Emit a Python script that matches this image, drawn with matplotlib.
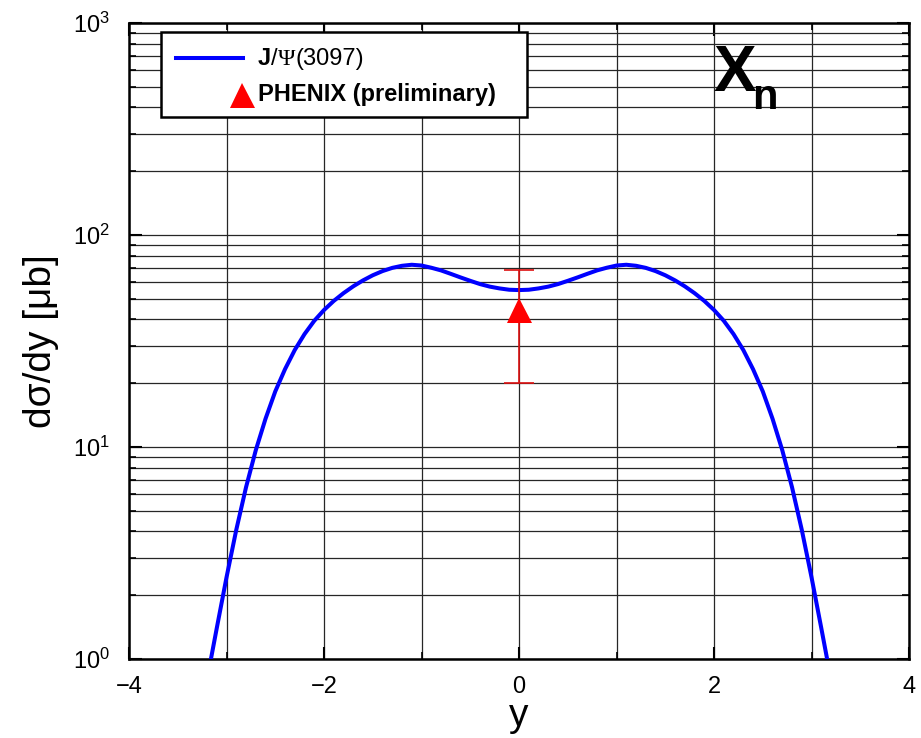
import matplotlib
matplotlib.use("Agg")
import matplotlib.pyplot as plt
from matplotlib import font_manager
from matplotlib.patches import Rectangle
from matplotlib.ticker import LogLocator, MultipleLocator, NullFormatter

# J/psi rapidity distribution
rapidity = [-3.16, -3.1, -3.0, -2.9, -2.8, -2.7, -2.6, -2.5, -2.4, -2.3,
            -2.2, -2.1, -2.0, -1.9, -1.8, -1.7, -1.6, -1.5, -1.4, -1.3,
            -1.2, -1.1, -1.0, -0.9, -0.8, -0.7, -0.6, -0.5, -0.4, -0.3,
            -0.2, -0.1, 0.0, 0.1, 0.2, 0.3, 0.4, 0.5, 0.6, 0.7,
            0.8, 0.9, 1.0, 1.1, 1.2, 1.3, 1.4, 1.5, 1.6, 1.7,
            1.8, 1.9, 2.0, 2.1, 2.2, 2.3, 2.4, 2.5, 2.6, 2.7,
            2.8, 2.9, 3.0, 3.1, 3.16]
dsigma_dy = [1.00, 1.40, 2.43, 4.07, 6.46, 9.66, 13.6, 18.3, 23.3, 28.7,
             34.1, 39.4, 44.3, 48.9, 53.2, 57.3, 61.1, 64.6, 67.6, 70.0,
             71.6, 72.4, 71.8, 70.1, 68.1, 65.6, 63.1, 60.8, 58.7, 57.1,
             56.0, 55.2, 55.0, 55.2, 56.0, 57.1, 58.7, 60.8, 63.1, 65.6,
             68.1, 70.1, 71.8, 72.4, 71.6, 70.0, 67.6, 64.6, 61.1, 57.3,
             53.2, 48.9, 44.3, 39.4, 34.1, 28.7, 23.3, 18.3, 13.6, 9.66,
             6.46, 4.07, 2.43, 1.40, 1.00]

# PHENIX preliminary point
phenix_y = [0.0]
phenix_val = [44.4]
phenix_lo = [20.1]
phenix_hi = [68.3]

data_label = "PHENIX (preliminary)"


def pick_font(names):
    for name in names:
        try:
            font_manager.findfont(name, fallback_to_default=False)
            return name
        except ValueError:
            continue
    return "DejaVu Sans"


sans = pick_font(["Liberation Sans", "Arial"])
serif = pick_font(["Liberation Serif"])

plt.rcParams["font.family"] = sans

fig = plt.figure(figsize=(9.21, 7.38), dpi=100)
ax = fig.add_axes([0.1401, 0.1070, 0.8469, 0.8618])

ax.plot(rapidity, dsigma_dy, color="#0000ff", linewidth=2.9, zorder=4,
        solid_joinstyle="round")

yerr = [[v - lo for v, lo in zip(phenix_val, phenix_lo)],
        [hi - v for v, hi in zip(phenix_val, phenix_hi)]]
ax.errorbar(phenix_y, phenix_val, yerr=yerr, fmt="none", ecolor="#dd1111",
            elinewidth=1.2, capsize=11, capthick=1.2, zorder=5)
ax.plot(phenix_y, phenix_val, "^", color="red", markersize=18,
        markeredgewidth=0, zorder=6)

ax.set_yscale("log")
ax.set_xlim(-4, 4)
ax.set_ylim(1, 1000)

ax.xaxis.set_major_locator(MultipleLocator(2))
ax.xaxis.set_minor_locator(MultipleLocator(1))
ax.yaxis.set_major_locator(LogLocator(base=10))
ax.yaxis.set_minor_locator(LogLocator(base=10, subs=range(2, 10)))
ax.yaxis.set_minor_formatter(NullFormatter())

ax.grid(True, which="both", color="0.15", linewidth=0.9, zorder=1)
ax.set_axisbelow(True)

for s in ax.spines.values():
    s.set_linewidth(1.8)
    s.set_color("black")

ax.tick_params(which="both", direction="in", top=True, right=True,
               labelsize=17)
ax.tick_params(which="major", length=9, width=1.5)
ax.tick_params(which="minor", length=5, width=1.2)
ax.tick_params(axis="y", pad=14)
ax.tick_params(axis="x", pad=12)

ax.set_xlabel("y", fontsize=28, labelpad=0)
ax.set_ylabel("dσ/dy [μb]", fontsize=28, labelpad=10)

# legend box drawn by hand to match the reference layout
ax.add_patch(Rectangle((0.041, 0.852), 0.469, 0.134, transform=ax.transAxes,
                       facecolor="white", edgecolor="black", linewidth=1.8,
                       zorder=6))
ax.plot([0.0603, 0.1462], [0.9447, 0.9447], transform=ax.transAxes,
        color="#0000ff", linewidth=2.9, zorder=7, clip_on=False)
ax.plot([0.1449], [0.8865], transform=ax.transAxes, marker="^", color="red",
        markersize=18, markeredgewidth=0, zorder=7, clip_on=False)

t1 = ax.text(0.1654, 0.9447, "J", transform=ax.transAxes, fontsize=17,
             fontweight="bold", va="center", ha="left", zorder=8)
t2 = ax.annotate("/", xy=(1, 0), xycoords=t1, fontsize=17, va="bottom",
                 ha="left", zorder=8)
t3 = ax.annotate("Ψ", xy=(1, 0), xycoords=t2, fontsize=17, family=serif,
                 va="bottom", ha="left", zorder=8)
ax.annotate("(3097)", xy=(1, 0), xycoords=t3, fontsize=17, va="bottom",
            ha="left", zorder=8)
ax.text(0.1654, 0.888, data_label, transform=ax.transAxes, fontsize=17,
        fontweight="bold", va="center", ha="left", zorder=8)

# X_n label
ax.text(0.749, 0.893, "X", transform=ax.transAxes, fontsize=46,
        fontweight="bold", va="baseline", ha="left", zorder=8)
ax.text(0.7987, 0.8645, "n", transform=ax.transAxes, fontsize=30,
        fontweight="bold", va="baseline", ha="left", zorder=8)

fig.savefig("out.png", dpi=100)
